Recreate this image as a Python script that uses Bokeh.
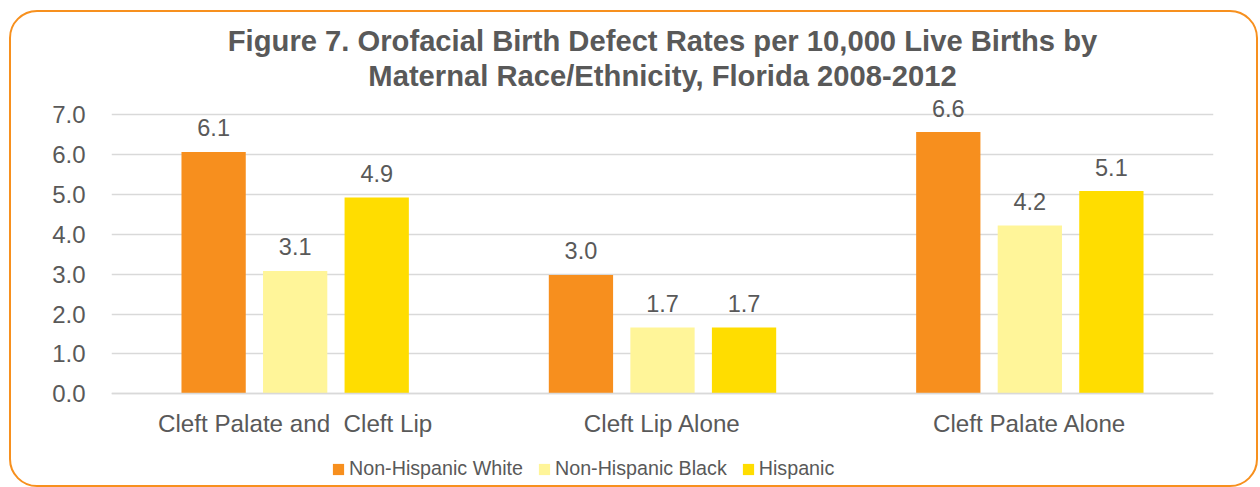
from bokeh.plotting import figure
from bokeh.models import ColumnDataSource, FactorRange, Range1d, FixedTicker, PrintfTickFormatter, Legend, LegendItem, Title
from bokeh.transform import dodge
from bokeh.core.properties import value
from bokeh.embed import file_html
from bokeh.resources import INLINE

# ---- data ----
categories = ["Cleft Palate and\u00a0 Cleft Lip", "Cleft Lip Alone", "Cleft Palate Alone"]
series_names = ["Non-Hispanic White", "Non-Hispanic Black", "Hispanic"]
white = [6.06, 2.98, 6.56]
black = [3.08, 1.66, 4.22]
hispanic = [4.92, 1.66, 5.08]
y_ticks = [0, 1, 2, 3, 4, 5, 6, 7]
title_lines = ["Figure 7. Orofacial Birth Defect Rates per 10,000 Live Births by",
               "Maternal Race/Ethnicity, Florida 2008-2012"]

colors = ["#F78F1E", "#FFF599", "#FFDD00"]
FONT = "Liberation Sans"
TXT = "#595959"

src = ColumnDataSource(dict(
    cat=categories,
    white=white, black=black, hispanic=hispanic,
    white_lbl=[f"{v:.1f}" for v in white],
    black_lbl=[f"{v:.1f}" for v in black],
    hispanic_lbl=[f"{v:.1f}" for v in hispanic],
))

# the frame reaches below zero so that the legend (drawn inside the frame) is not clipped;
# the category axis is pinned at y = 0
p = figure(x_range=FactorRange(factors=categories, range_padding=0),
           y_range=Range1d(-2.27, 7.5),
           width=1245, height=473,
           output_backend="svg", toolbar_location=None,
           min_border_left=100, min_border_right=47,
           min_border_top=82, min_border_bottom=5)

p.styles = {"border": "2px solid #F7901E", "border-radius": "28px",
            "box-sizing": "content-box", "margin-left": "9px", "margin-top": "10px"}
p.border_fill_color = None
p.background_fill_color = "white"
p.outline_line_color = None
p.title.visible = False

# add second line first (closest to the plot), then first line above it
for txt, so in ((title_lines[1], 5), (title_lines[0], -2)):
    p.add_layout(Title(text=txt, align="center", offset=9, standoff=so,
                       text_font=FONT, text_font_size="29.2px", text_font_style="bold",
                       text_color=TXT), "above")

offsets = [-0.222, 0.0, 0.222]
keys = ["white", "black", "hispanic"]
items = []
for k, off, col, name in zip(keys, offsets, colors, series_names):
    r = p.vbar(x=dodge("cat", off, range=p.x_range), top=k, bottom=0, width=0.175,
               source=src, fill_color=col, line_color=None)
    p.text(x=dodge("cat", off, range=p.x_range), y=k, text=k + "_lbl", source=src,
           text_align="center", text_baseline="alphabetic", y_offset=-24,
           text_font=value(FONT), text_font_size="23.5px", text_color=TXT)
    items.append(LegendItem(label=name, renderers=[r]))

legend = Legend(items=items, orientation="horizontal", location=(220, 4),
                padding=0, margin=0, spacing=14, label_standoff=4,
                glyph_width=14, glyph_height=14, label_height=20,
                border_line_color=None, background_fill_alpha=0,
                label_text_font=FONT, label_text_font_size="19.7px", label_text_color=TXT)
p.add_layout(legend, "center")

p.xgrid.visible = False
p.ygrid.ticker = FixedTicker(ticks=y_ticks)
p.ygrid.grid_line_color = "#D9D9D9"
p.ygrid.grid_line_width = 1.3

p.yaxis.ticker = FixedTicker(ticks=y_ticks)
p.yaxis.formatter = PrintfTickFormatter(format="%.1f")
p.yaxis.axis_line_color = None
p.yaxis.major_tick_line_color = None
p.yaxis.minor_tick_line_color = None
p.yaxis.major_label_standoff = 20
p.yaxis.major_label_text_font = FONT
p.yaxis.major_label_text_font_size = "24px"
p.yaxis.major_label_text_color = TXT

p.xaxis.fixed_location = 0
p.xaxis.axis_line_color = "#D9D9D9"
p.xaxis.axis_line_width = 1.5
p.xaxis.major_tick_line_color = None
p.xaxis.minor_tick_line_color = None
p.xaxis.major_label_standoff = 10
p.xaxis.major_label_text_font = FONT
p.xaxis.major_label_text_font_size = "24.2px"
p.xaxis.major_label_text_color = TXT

open("out.html", "w").write(file_html(p, INLINE))
